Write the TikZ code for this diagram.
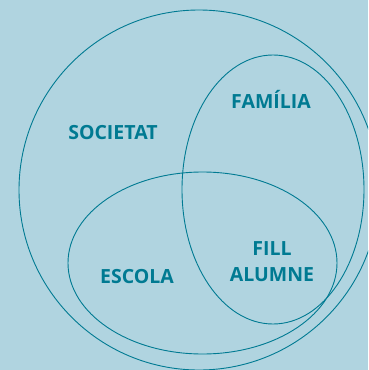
\documentclass[tikz,border=0pt]{standalone}
\usepackage{fontspec}
\setmainfont{Open Sans}
\definecolor{bg}{RGB}{176,212,224}
\definecolor{teal}{RGB}{0,122,146}
\begin{document}
\begin{tikzpicture}[x=1pt,y=-1pt,
  ring/.style={draw=teal,line width=0.9pt},
  lbl/.style={text=teal,font=\bfseries\fontsize{19.5}{26}\selectfont,align=center,inner sep=0pt}]
\fill[bg] (0,0) rectangle (368,370);
\useasboundingbox (0,0) rectangle (368,370);
\begin{scope}
\clip (0,0) rectangle (368,370);
\draw[ring] (199,190) circle[radius=180];
\end{scope}
\draw[ring] (273,189.5) ellipse[x radius=91,y radius=134.5];
\draw[ring] (202.5,263) ellipse[x radius=134.5,y radius=91];
\node[lbl] (soc) at (113,132.5) {SOCIETAT};
\node[lbl] (fam) at (271,99.5) {FAMÍLIA};
\node[lbl] (esc) at (137,276.5) {ESCOLA};
\node[lbl] (fill) at (272,261.5) {FILL\\ALUMNE};
\end{tikzpicture}
\end{document}
